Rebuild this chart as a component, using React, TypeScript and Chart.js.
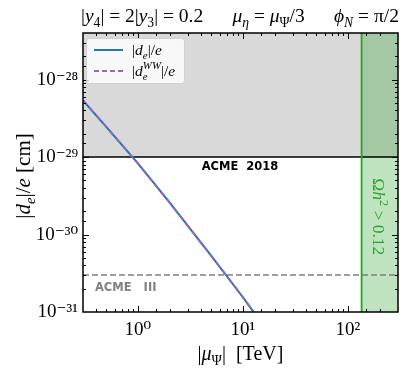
import React, { useEffect, useRef } from "react";
import { Chart, registerables } from "chart.js";

Chart.register(...registerables);

// ---- data ----
const X_MIN = 0.3;
const X_MAX = 300;
const Y_MIN = 1e-31;
const Y_MAX = 4e-28;
const muPsi = [0.3, 0.5, 1, 2, 5, 10, 13];
const deTotal = [5.4e-29, 2.45e-29, 8.3e-30, 2.6e-30, 5.3e-31, 1.55e-31, 9.5e-32];
const deWW = [5.4e-29, 2.45e-29, 8.3e-30, 2.6e-30, 5.3e-31, 1.55e-31, 9.5e-32];
const ACME_2018 = 1e-29;
const ACME_III = 3e-31;
const RELIC_MU = 135;

const BLUE = "#1f77b4";
const PURPLE = "#9467bd";
const GREEN = "#2ca02c";
const SERIF = "'Liberation Serif', 'DejaVu Serif', serif";
const SANS = "'DejaVu Sans', sans-serif";

const SUP: Record<string, string> = {
  "-": "\u207B", "0": "\u2070", "1": "\u00B9", "2": "\u00B2", "3": "\u00B3",
  "4": "\u2074", "5": "\u2075", "6": "\u2076", "7": "\u2077", "8": "\u2078", "9": "\u2079",
};
const isMajor = (v: number) => {
  const e = Math.log10(v);
  return Math.abs(e - Math.round(e)) < 1e-6;
};
const pow10Label = (v: number) => {
  if (!isMajor(v)) return "";
  const r = Math.round(Math.log10(v));
  return "10" + String(r).split("").map((c) => SUP[c]).join("");
};

type Seg = { t: string; it?: boolean; sub?: boolean; sup?: boolean; sub2?: string; sup2?: string };

function segFont(size: number, it?: boolean) {
  return `${it ? "italic " : ""}${size}px ${SERIF}`;
}

function measureRich(ctx: CanvasRenderingContext2D, segs: Seg[], size: number) {
  let w = 0;
  for (const s of segs) {
    if (s.sub2 !== undefined || s.sup2 !== undefined) {
      ctx.font = segFont(size * 0.7, true);
      const a = ctx.measureText(s.sub2 || "").width;
      const b = ctx.measureText(s.sup2 || "").width;
      w += Math.max(a, b);
      continue;
    }
    const sz = s.sub || s.sup ? size * 0.7 : size;
    ctx.font = segFont(sz, s.it);
    w += ctx.measureText(s.t).width;
  }
  return w;
}

function drawRich(
  ctx: CanvasRenderingContext2D,
  segs: Seg[],
  x: number,
  y: number,
  size: number,
  align: "left" | "center",
  color: string
) {
  ctx.save();
  ctx.fillStyle = color;
  ctx.textBaseline = "alphabetic";
  ctx.textAlign = "left";
  let cx = align === "center" ? x - measureRich(ctx, segs, size) / 2 : x;
  for (const s of segs) {
    if (s.sub2 !== undefined || s.sup2 !== undefined) {
      const sz = size * 0.7;
      ctx.font = segFont(sz, true);
      let a = 0, b = 0;
      if (s.sub2) { ctx.fillText(s.sub2, cx, y + size * 0.25); a = ctx.measureText(s.sub2).width; }
      if (s.sup2) { ctx.fillText(s.sup2, cx, y - size * 0.42); b = ctx.measureText(s.sup2).width; }
      cx += Math.max(a, b);
      continue;
    }
    const sz = s.sub || s.sup ? size * 0.7 : size;
    ctx.font = segFont(sz, s.it);
    const dy = s.sub ? size * 0.25 : s.sup ? -size * 0.42 : 0;
    ctx.fillText(s.t, cx, y + dy);
    cx += ctx.measureText(s.t).width;
  }
  ctx.restore();
}

const TITLE: Seg[] = [
  { t: "|" }, { t: "y", it: true }, { t: "4", sub: true }, { t: "| = 2|" },
  { t: "y", it: true }, { t: "3", sub: true }, { t: "| = 0.2      " },
  { t: "\u03BC", it: true }, { t: "\u03B7", it: true, sub: true }, { t: " = " },
  { t: "\u03BC", it: true }, { t: "\u03A8", sub: true }, { t: "/3      " },
  { t: "\u03D5", it: true }, { t: "N", it: true, sub: true }, { t: " = \u03C0/2" },
];
const YLABEL: Seg[] = [
  { t: "|" }, { t: "d", it: true }, { t: "e", it: true, sub: true }, { t: "|/" },
  { t: "e", it: true }, { t: " [cm]" },
];
const XLABEL: Seg[] = [
  { t: "|" }, { t: "\u03BC", it: true }, { t: "\u03A8", sub: true }, { t: "|  [TeV]" },
];
const LEG1: Seg[] = [
  { t: "|" }, { t: "d", it: true }, { t: "e", it: true, sub: true }, { t: "|/" }, { t: "e", it: true },
];
const LEG2: Seg[] = [
  { t: "|" }, { t: "d", it: true }, { t: "", sub2: "e", sup2: "WW" }, { t: "|/" }, { t: "e", it: true },
];
const RELIC: Seg[] = [
  { t: "\u03A9" }, { t: "h", it: true }, { t: "2", sup: true }, { t: " > 0.12" },
];

const decorPlugin = {
  id: "decor",
  afterDraw(chart: any) {
    const { ctx, chartArea: a, scales } = chart;
    const x = scales.x;
    const y = scales.y;
    ctx.save();
    // ticks (inward, all four sides)
    ctx.strokeStyle = "#000";
    ctx.lineWidth = 1;
    ctx.beginPath();
    for (const t of x.ticks) {
      const v = t.value;
      if (v <= X_MIN * 1.0001 || v >= X_MAX * 0.9999) continue;
      const px = Math.round(x.getPixelForValue(v)) + 0.5;
      const L = isMajor(v) ? 6 : 3;
      ctx.moveTo(px, a.bottom); ctx.lineTo(px, a.bottom - L);
      ctx.moveTo(px, a.top); ctx.lineTo(px, a.top + L);
    }
    for (const t of y.ticks) {
      const v = t.value;
      if (v <= Y_MIN * 1.0001 || v >= Y_MAX * 0.9999) continue;
      const py = Math.round(y.getPixelForValue(v)) + 0.5;
      const L = isMajor(v) ? 6 : 3;
      ctx.moveTo(a.left, py); ctx.lineTo(a.left + L, py);
      ctx.moveTo(a.right, py); ctx.lineTo(a.right - L, py);
    }
    ctx.stroke();
    // frame
    ctx.lineWidth = 1.5;
    ctx.strokeRect(a.left, a.top, a.right - a.left, a.bottom - a.top);

    // annotations
    ctx.font = `bold 11.5px ${SANS}`;
    ctx.textBaseline = "middle";
    ctx.textAlign = "left";
    ctx.fillStyle = "#000";
    ctx.fillText("ACME  2018", x.getPixelForValue(4.05), y.getPixelForValue(ACME_2018) + 10);
    ctx.fillStyle = "#808080";
    ctx.fillText("ACME   III", x.getPixelForValue(0.39), y.getPixelForValue(ACME_III) + 13);

    // relic text rotated
    ctx.save();
    ctx.translate(a.right - 19, y.getPixelForValue(1.7e-30));
    ctx.rotate(Math.PI / 2);
    drawRich(ctx, RELIC, 0, 6, 17.5, "center", GREEN);
    ctx.restore();

    // legend
    const lx = a.left + 3, ly = a.top + 5, lw = 98, lh = 45;
    ctx.fillStyle = "rgba(255,255,255,0.8)";
    ctx.strokeStyle = "#d0d0d0";
    ctx.lineWidth = 1;
    ctx.beginPath();
    ctx.roundRect(lx + 0.5, ly + 0.5, lw, lh, 3);
    ctx.fill();
    ctx.stroke();
    ctx.lineWidth = 2;
    ctx.strokeStyle = BLUE;
    ctx.beginPath(); ctx.moveTo(lx + 8, ly + 12); ctx.lineTo(lx + 37, ly + 12); ctx.stroke();
    ctx.strokeStyle = PURPLE;
    ctx.setLineDash([5, 3]);
    ctx.beginPath(); ctx.moveTo(lx + 8, ly + 33); ctx.lineTo(lx + 37, ly + 33); ctx.stroke();
    ctx.setLineDash([]);
    drawRich(ctx, LEG1, lx + 46, ly + 17, 15.5, "left", "#000");
    drawRich(ctx, LEG2, lx + 46, ly + 38, 15.5, "left", "#000");

    // title & axis labels
    drawRich(ctx, TITLE, 240, 22, 19.5, "center", "#000");
    drawRich(ctx, XLABEL, (a.left + a.right) / 2, 360, 20, "center", "#000");
    ctx.save();
    ctx.translate(30, 176);
    ctx.rotate(-Math.PI / 2);
    drawRich(ctx, YLABEL, 0, 0, 21, "center", "#000");
    ctx.restore();
    ctx.restore();
  },
};

export default function App() {
  const ref = useRef<HTMLCanvasElement | null>(null);
  useEffect(() => {
    if (!ref.current) return;
    const pts = (xs: number[], ys: number[]) => xs.map((v, i) => ({ x: v, y: ys[i] }));
    const chart = new Chart(ref.current, {
      type: "line",
      data: {
        datasets: [
          {
            label: "|d_e^WW|/e",
            data: pts(muPsi, deWW),
            borderColor: PURPLE,
            borderWidth: 2,
            borderDash: [6, 4],
            pointRadius: 0,
            fill: false,
            order: 0,
          },
          {
            label: "|d_e|/e",
            data: pts(muPsi, deTotal),
            borderColor: BLUE,
            borderWidth: 2,
            pointRadius: 0,
            fill: false,
            order: 1,
          },
          {
            label: "relic line",
            data: [{ x: RELIC_MU, y: Y_MIN }, { x: RELIC_MU, y: Y_MAX }],
            borderColor: GREEN,
            borderWidth: 1.8,
            pointRadius: 0,
            fill: false,
            order: 2,
          },
          {
            label: "ACME III",
            data: [{ x: X_MIN, y: ACME_III }, { x: X_MAX, y: ACME_III }],
            borderColor: "#808080",
            borderWidth: 1.5,
            borderDash: [6, 3],
            pointRadius: 0,
            fill: false,
            order: 3,
          },
          {
            label: "ACME 2018",
            data: [{ x: X_MIN, y: ACME_2018 }, { x: X_MAX, y: ACME_2018 }],
            borderColor: "#000",
            borderWidth: 1.5,
            pointRadius: 0,
            fill: false,
            order: 4,
          },
          {
            label: "relic region",
            data: [{ x: RELIC_MU, y: Y_MAX }, { x: X_MAX, y: Y_MAX }],
            borderWidth: 0,
            borderColor: "rgba(0,0,0,0)",
            backgroundColor: "rgba(44,160,44,0.3)",
            pointRadius: 0,
            fill: "start",
            order: 5,
          },
          {
            label: "excluded",
            data: [{ x: X_MIN, y: ACME_2018 }, { x: X_MAX, y: ACME_2018 }],
            borderWidth: 0,
            borderColor: "rgba(0,0,0,0)",
            backgroundColor: "#d9d9d9",
            pointRadius: 0,
            fill: "end",
            order: 6,
          },
        ],
      },
      options: {
        animation: false,
        responsive: false,
        devicePixelRatio: 1,
        layout: { padding: { left: 0, right: 14, top: 33, bottom: 0 } },
        plugins: { legend: { display: false }, tooltip: { enabled: false }, title: { display: false } },
        scales: {
          x: {
            type: "logarithmic",
            min: X_MIN,
            max: X_MAX,
            border: { display: false },
            grid: { display: false, drawTicks: false },
            ticks: {
              autoSkip: false,
              maxRotation: 0,
              padding: 7,
              color: "#000",
              font: { family: SERIF, size: 19 },
              callback: (v: any) => pow10Label(Number(v)),
            },
            afterFit: (s: any) => { s.height = 60; },
          },
          y: {
            type: "logarithmic",
            min: Y_MIN,
            max: Y_MAX,
            border: { display: false },
            grid: { display: false, drawTicks: false },
            ticks: {
              autoSkip: false,
              padding: 5,
              color: "#000",
              font: { family: SERIF, size: 19 },
              callback: (v: any) => pow10Label(Number(v)),
            },
            afterFit: (s: any) => { s.width = 83; },
          },
        },
      },
      plugins: [decorPlugin],
    } as any);
    return () => chart.destroy();
  }, []);
  return (
    <div style={{ position: "fixed", left: 0, top: 0, width: 412, height: 372, background: "#fff" }}>
      <canvas ref={ref} width={412} height={372} style={{ width: 412, height: 372 }} />
    </div>
  );
}
